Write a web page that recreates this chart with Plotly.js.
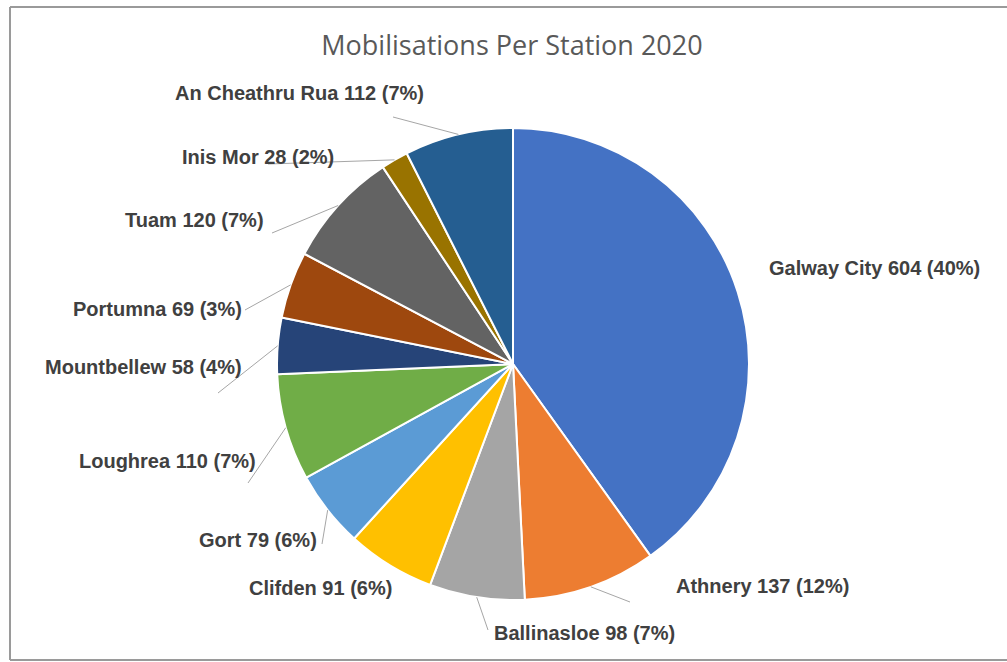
<!DOCTYPE html>
<html>
<head>
<meta charset="utf-8">
<script src="https://cdn.plot.ly/plotly-3.0.1.min.js"></script>
<style>
  html, body { margin: 0; padding: 0; background: #ffffff; }
  #chart { width: 1007px; height: 662px; }
</style>
</head>
<body>
<div id="chart"></div>
<script>
// ---- data ----
const stations = ["Galway City", "Athnery", "Ballinasloe", "Clifden", "Gort", "Loughrea",
                  "Mountbellew", "Portumna", "Tuam", "Inis Mor", "An Cheathru Rua"];
const mobilisations = [604, 137, 98, 91, 79, 110, 58, 69, 120, 28, 112];
const labelPercents = ["40%", "12%", "7%", "6%", "6%", "7%", "4%", "3%", "7%", "2%", "7%"];
const chartTitle = "Mobilisations Per Station 2020";

// ---- styles ----
const sliceColors = ["#4472C4", "#ED7D31", "#A5A5A5", "#FFC000", "#5B9BD5", "#70AD47",
                     "#264478", "#9E480E", "#636363", "#997300", "#255E91"];

// ---- layout geometry (pixels) ----
const W = 1007, H = 662;
const CX = 513, CY = 364, R = 236;

// label placement: [x, y, xanchor] in px, and end point of leader line (or null)
const labelLayout = [
  {x: 767, y: 268, anchor: "left",  lineEnd: null},
  {x: 674, y: 586, anchor: "left",  lineEnd: [630, 602]},
  {x: 492, y: 633, anchor: "left",  lineEnd: [488, 630]},
  {x: 394, y: 588, anchor: "right", lineEnd: null},
  {x: 319, y: 540, anchor: "right", lineEnd: [322, 544]},
  {x: 258, y: 461, anchor: "right", lineEnd: [248, 483]},
  {x: 244, y: 367, anchor: "right", lineEnd: [218, 393]},
  {x: 244, y: 309, anchor: "right", lineEnd: [245, 310]},
  {x: 266, y: 220, anchor: "right", lineEnd: [272, 233]},
  {x: 336, y: 157, anchor: "right", lineEnd: [268, 164]},
  {x: 426, y: 93,  anchor: "right", lineEnd: [393, 117]}
];

const px = x => x / W;
const py = y => 1 - y / H;

const total = mobilisations.reduce((a, b) => a + b, 0);
const labelTexts = stations.map((s, i) => s + " " + mobilisations[i] + " (" + labelPercents[i] + ")");

// anchors on the pie edge at each slice's middle angle (clockwise from 12 o'clock)
const anchors = [];
let cum = 0;
mobilisations.forEach(v => {
  const mid = (cum + v / 2) / total * 2 * Math.PI;
  anchors.push([CX + R * Math.sin(mid), CY - R * Math.cos(mid)]);
  cum += v;
});

const annotations = labelTexts.map((t, i) => ({
  text: t,
  xref: "paper", yref: "paper",
  x: px(labelLayout[i].x), y: py(labelLayout[i].y),
  xanchor: labelLayout[i].anchor, yanchor: "middle",
  showarrow: false,
  font: {family: "Liberation Sans, Arial, sans-serif", size: 20, color: "#404040", weight: "bold"}
}));

const shapes = [];
labelLayout.forEach((l, i) => {
  if (!l.lineEnd) return;
  shapes.push({
    type: "line", xref: "paper", yref: "paper",
    x0: px(anchors[i][0]), y0: py(anchors[i][1]),
    x1: px(l.lineEnd[0]), y1: py(l.lineEnd[1]),
    line: {color: "#a6a6a6", width: 1}
  });
});
// chart frame (top, left, bottom edges; right edge lies outside the picture)
const frame = {color: "#9a9a9a", width: 2};
shapes.push({type: "line", xref: "paper", yref: "paper", x0: px(10), x1: 1, y0: py(7), y1: py(7), line: frame});
shapes.push({type: "line", xref: "paper", yref: "paper", x0: px(10), x1: px(10), y0: py(7), y1: py(660), line: frame});
shapes.push({type: "line", xref: "paper", yref: "paper", x0: px(10), x1: 1, y0: py(660), y1: py(660), line: frame});

const trace = {
  type: "pie",
  labels: stations,
  values: mobilisations,
  sort: false,
  direction: "clockwise",
  rotation: 0,
  textinfo: "none",
  hoverinfo: "label+value",
  marker: {colors: sliceColors, line: {color: "#ffffff", width: 2}},
  domain: {x: [px(CX - R), px(CX + R)], y: [py(CY + R), py(CY - R)]},
  showlegend: false
};

const layout = {
  width: W, height: H,
  margin: {l: 0, r: 0, t: 0, b: 0},
  paper_bgcolor: "#ffffff",
  title: {
    text: chartTitle,
    x: px(512), xanchor: "center",
    y: py(46), yanchor: "middle",
    font: {family: "Open Sans, sans-serif", size: 27, color: "#595959"}
  },
  annotations: annotations,
  shapes: shapes,
  showlegend: false
};

Plotly.newPlot("chart", [trace], layout, {displayModeBar: false, staticPlot: true});
</script>
</body>
</html>
